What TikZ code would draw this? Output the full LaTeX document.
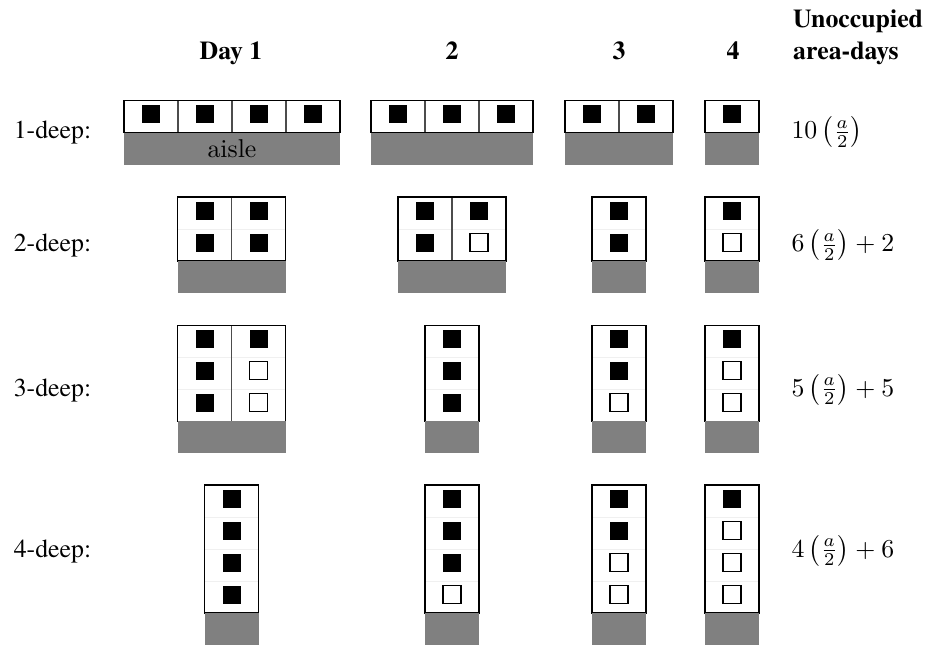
\documentclass[tikz,border=0pt]{standalone}
\usepackage[no-math]{fontspec}
\setmainfont{texgyretermes}[Extension=.otf,UprightFont=*-regular,BoldFont=*-bold,ItalicFont=*-italic,BoldItalicFont=*-bolditalic]
\newfontfamily\lmr{Latin Modern Roman}
\tikzset{
  full/.style={fill=black},
  emptyslot/.style={draw=black,line width=0.4pt,fill=white},
  aislefill/.style={fill=black!50,draw=none},
  outline/.style={draw=black,line width=0.45pt},
  vdiv/.style={draw=black!70,line width=0.4pt},
  hdiv/.style={draw=black!6,line width=0.3pt},
  lab/.style={font=\rmfamily,anchor=base west,inner sep=0pt},
  head/.style={font=\rmfamily\bfseries,anchor=base,inner sep=0pt},
  headl/.style={font=\rmfamily\bfseries,anchor=base west,inner sep=0pt},
  frm/.style={anchor=base west,inner sep=0pt},
}
\newcommand\stackcol[3]{%
  \foreach \s [count=\i from 0] in {#3} {%
    \ifnum\s=1
      \fill[full] (#1+18,#2+\i*32+4.5) rectangle +(18,18);
    \else
      \filldraw[emptyslot] (#1+18,#2+\i*32+4.5) rectangle +(18,18);
    \fi
  }}
\newcommand\rackbox[4]{%
  \fill[white] (#1,#2) rectangle (#1+#3*54,#2+#4*32);
  \ifnum#4>1 \foreach \k in {2,...,#4} \draw[hdiv] (#1,#2+\k*32-32) -- (#1+#3*54,#2+\k*32-32); \fi
  \ifnum#3>1 \foreach \k in {2,...,#3} \draw[vdiv] (#1+\k*54-54,#2) -- (#1+\k*54-54,#2+#4*32); \fi
  \draw[outline] (#1,#2) rectangle (#1+#3*54,#2+#4*32);
  \fill[aislefill] (#1,#2+#4*32) rectangle (#1+#3*54,#2+#4*32+32);
}
\begin{document}
\begin{tikzpicture}[x=0.3876pt,y=-0.3876pt]
\useasboundingbox (0,0) rectangle (931,646);
% headers
\node[head] (h1) at (231,59.5) {Day 1};
\node[head] (h2) at (452,59.5) {2};
\node[head] (h3) at (619,59.5) {3};
\node[head] (h4) at (733,59.5) {4};
\node[headl] (hu) at (792.7,27.5) {Unoccupied};
\node[headl] (ha) at (792.7,59.5) {area-days};
% row labels
\node[lab] (l1) at (13.3,138.5) {1-deep:};
\node[lab] (l2) at (13.3,251.5) {2-deep:};
\node[lab] (l3) at (13.3,396) {3-deep:};
\node[lab] (l4) at (13.3,557) {4-deep:};
% formulas
\node[frm] (f1) at (791,138.5) {$10\left(\frac{a}{2}\right)$};
\node[frm] (f2) at (791,251.5) {$6\left(\frac{a}{2}\right)+2$};
\node[frm] (f3) at (791,396) {$5\left(\frac{a}{2}\right)+5$};
\node[frm] (f4) at (791,557) {$4\left(\frac{a}{2}\right)+6$};
% row 1
\rackbox{124}{100.7}{4}{1}
\stackcol{124}{100.7}{1}\stackcol{178}{100.7}{1}\stackcol{232}{100.7}{1}\stackcol{286}{100.7}{1}
\rackbox{371}{100.7}{3}{1}
\stackcol{371}{100.7}{1}\stackcol{425}{100.7}{1}\stackcol{479}{100.7}{1}
\rackbox{565}{100.7}{2}{1}
\stackcol{565}{100.7}{1}\stackcol{619}{100.7}{1}
\rackbox{705}{100.7}{1}{1}
\stackcol{705}{100.7}{1}
\node[inner sep=0pt,font=\lmr] (aislelbl) at (232,148.7) {aisle};
% row 2
\rackbox{177.5}{197}{2}{2}
\stackcol{177.5}{197}{1,1}\stackcol{231.5}{197}{1,1}
\rackbox{398}{197}{2}{2}
\stackcol{398}{197}{1,1}\stackcol{452}{197}{1,0}
\rackbox{592}{197}{1}{2}
\stackcol{592}{197}{1,1}
\rackbox{705}{197}{1}{2}
\stackcol{705}{197}{1,0}
% row 3
\rackbox{177.5}{325.3}{2}{3}
\stackcol{177.5}{325.3}{1,1,1}\stackcol{231.5}{325.3}{1,0,0}
\rackbox{425}{325.3}{1}{3}
\stackcol{425}{325.3}{1,1,1}
\rackbox{592}{325.3}{1}{3}
\stackcol{592}{325.3}{1,1,0}
\rackbox{705}{325.3}{1}{3}
\stackcol{705}{325.3}{1,0,0}
% row 4
\rackbox{204.5}{485}{1}{4}
\stackcol{204.5}{485}{1,1,1,1}
\rackbox{425}{485}{1}{4}
\stackcol{425}{485}{1,1,1,0}
\rackbox{592}{485}{1}{4}
\stackcol{592}{485}{1,1,0,0}
\rackbox{705}{485}{1}{4}
\stackcol{705}{485}{1,0,0,0}
\end{tikzpicture}
\end{document}
